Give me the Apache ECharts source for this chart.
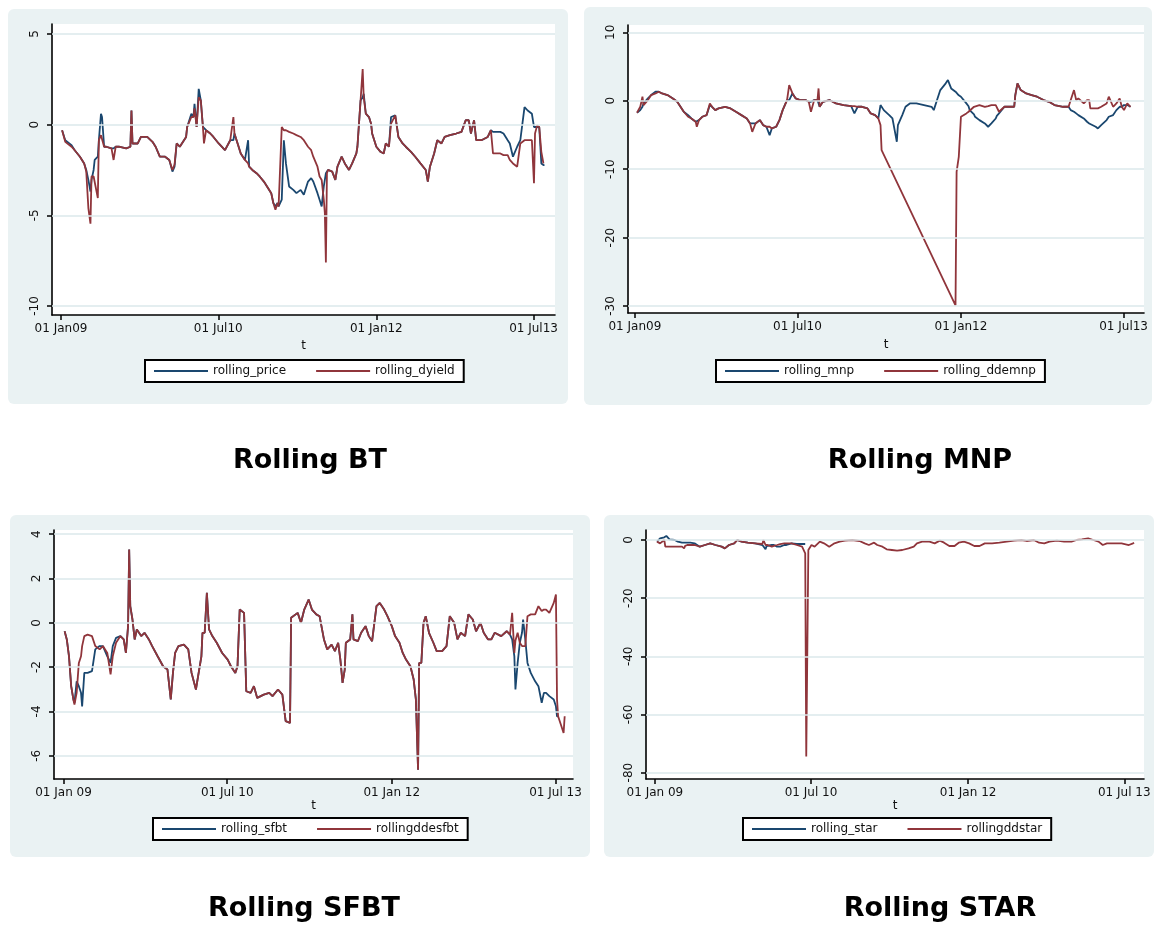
<!DOCTYPE html>
<html>
<head>
<meta charset="utf-8">
<title>Rolling estimates</title>
<script src="https://cdn.jsdelivr.net/npm/echarts/dist/echarts.min.js"></script>
<style>
  html, body { margin: 0; padding: 0; background: #fff; }
  #chart { width: 1154px; height: 926px; }
</style>
</head>
<body>
<div id="chart"></div>
<script>
// time is in decimal years
const btT = [
  2009.01, 2009.04, 2009.10, 2009.13, 2009.18, 2009.22, 2009.24, 2009.26, 2009.28, 2009.29,
  2009.31, 2009.32, 2009.35, 2009.36, 2009.38, 2009.39, 2009.41, 2009.43, 2009.48, 2009.50,
  2009.52, 2009.55, 2009.62, 2009.66, 2009.67, 2009.68, 2009.73, 2009.76, 2009.82, 2009.87,
  2009.90, 2009.94, 2009.99, 2010.03, 2010.06, 2010.08, 2010.10, 2010.13, 2010.15, 2010.19,
  2010.20, 2010.24, 2010.26, 2010.27, 2010.29, 2010.31, 2010.33, 2010.35, 2010.36, 2010.38,
  2010.42, 2010.45, 2010.50, 2010.56, 2010.61, 2010.64, 2010.65, 2010.68, 2010.71, 2010.75,
  2010.78, 2010.79, 2010.82, 2010.86, 2010.89, 2010.93, 2010.96, 2011.00, 2011.02, 2011.04,
  2011.06, 2011.07, 2011.10, 2011.12, 2011.14, 2011.17, 2011.21, 2011.24, 2011.28, 2011.31,
  2011.35, 2011.38, 2011.40, 2011.44, 2011.46, 2011.48, 2011.50, 2011.51, 2011.52, 2011.53,
  2011.54, 2011.58, 2011.61, 2011.63, 2011.67, 2011.70, 2011.74, 2011.77, 2011.81, 2011.82,
  2011.85, 2011.87, 2011.88, 2011.90, 2011.93, 2011.95, 2011.96, 2012.00, 2012.04, 2012.07,
  2012.09, 2012.12, 2012.14, 2012.18, 2012.19, 2012.21, 2012.25, 2012.28, 2012.33, 2012.37,
  2012.42, 2012.47, 2012.49, 2012.51, 2012.55, 2012.58, 2012.62, 2012.65, 2012.70, 2012.76,
  2012.81, 2012.85, 2012.88, 2012.90, 2012.93, 2012.95, 2013.00, 2013.06, 2013.09, 2013.11,
  2013.18, 2013.21, 2013.25, 2013.27, 2013.30, 2013.34, 2013.37, 2013.41, 2013.44, 2013.48,
  2013.50, 2013.51, 2013.53, 2013.55, 2013.57, 2013.59, 2013.60
]
const btPrice = [
  -0.31, -0.86, -1.13, -1.41, -1.77, -2.14, -2.50, -3.05, -3.69, -3.05,
  -2.50, -1.95, -1.77, -0.86, 0.60, 0.42, -1.22, -1.22, -1.31, -1.31,
  -1.22, -1.22, -1.31, -1.22, 0.78, -1.04, -1.04, -0.68, -0.68, -0.95,
  -1.22, -1.77, -1.77, -1.95, -2.59, -2.32, -1.04, -1.22, -1.04, -0.68,
  -0.13, 0.60, 0.42, 1.15, -0.13, 1.97, 1.33, -0.13, -0.13, -0.31,
  -0.49, -0.68, -1.04, -1.41, -0.86, -0.86, -0.49, -1.04, -1.59, -1.95,
  -0.86, -2.32, -2.50, -2.68, -2.86, -3.14, -3.41, -3.78, -4.32, -4.51,
  -4.32, -4.51, -4.14, -0.86, -2.14, -3.41, -3.60, -3.78, -3.60, -3.87,
  -3.14, -2.95, -3.14, -3.78, -4.14, -4.51, -3.41, -3.05, -2.68, -2.68,
  -2.50, -2.59, -3.05, -2.32, -1.77, -2.14, -2.50, -2.14, -1.59, -1.22,
  1.33, 1.51, 1.70, 0.60, 0.42, 0.05, -0.49, -1.22, -1.50, -1.59,
  -1.04, -1.22, 0.42, 0.51, 0.60, -0.68, -1.04, -1.22, -1.50, -1.77,
  -2.14, -2.50, -3.14, -2.32, -1.59, -0.86, -1.04, -0.68, -0.58, -0.49,
  -0.40, 0.24, 0.24, -0.49, 0.24, -0.86, -0.86, -0.68, -0.31, -0.40,
  -0.40, -0.49, -0.86, -1.04, -1.77, -1.22, -0.86, 0.97, 0.78, 0.60,
  -0.13, -0.13, -0.13, -0.13, -2.14, -2.23, -2.23
]
const btDyield = [
  -0.31, -0.95, -1.22, -1.41, -1.77, -2.14, -2.59, -4.60, -5.46, -2.86,
  -2.86, -2.86, -4.05, -0.86, -0.58, -0.58, -1.22, -1.22, -1.31, -1.95,
  -1.22, -1.22, -1.31, -1.22, 0.78, -1.04, -1.04, -0.68, -0.68, -0.95,
  -1.22, -1.77, -1.77, -1.95, -2.50, -2.20, -1.04, -1.22, -1.04, -0.68,
  -0.13, 0.42, 0.42, 0.90, -0.13, 1.51, 1.33, -0.13, -1.04, -0.31,
  -0.49, -0.68, -1.04, -1.41, -0.86, 0.42, -0.49, -1.04, -1.59, -1.95,
  -2.14, -2.32, -2.50, -2.68, -2.86, -3.14, -3.41, -3.78, -4.32, -4.69,
  -4.32, -4.51, -0.13, -0.31, -0.31, -0.40, -0.49, -0.58, -0.68, -0.86,
  -1.22, -1.41, -1.77, -2.32, -2.86, -3.05, -4.14, -4.87, -7.61, -2.68,
  -2.50, -2.59, -3.05, -2.32, -1.77, -2.14, -2.50, -2.14, -1.59, -1.22,
  1.33, 3.07, 1.51, 0.60, 0.42, 0.05, -0.49, -1.22, -1.50, -1.59,
  -1.04, -1.22, 0.05, 0.51, 0.60, -0.68, -1.04, -1.22, -1.50, -1.77,
  -2.14, -2.50, -3.14, -2.32, -1.59, -0.86, -1.04, -0.68, -0.58, -0.49,
  -0.40, 0.24, 0.24, -0.49, 0.24, -0.86, -0.86, -0.68, -0.31, -1.59,
  -1.59, -1.68, -1.68, -1.95, -2.14, -2.32, -1.04, -0.86, -0.86, -0.86,
  -3.23, -0.49, -0.04, -0.13, -1.50, -2.14
]

const mnpT = [
  2009.02, 2009.05, 2009.07, 2009.08, 2009.12, 2009.15, 2009.19, 2009.22, 2009.25, 2009.30,
  2009.35, 2009.39, 2009.42, 2009.45, 2009.49, 2009.52, 2009.56, 2009.57, 2009.59, 2009.62,
  2009.66, 2009.69, 2009.71, 2009.74, 2009.77, 2009.83, 2009.88, 2009.93, 2009.98, 2010.03,
  2010.06, 2010.08, 2010.11, 2010.15, 2010.18, 2010.21, 2010.24, 2010.26, 2010.30, 2010.33,
  2010.36, 2010.40, 2010.42, 2010.45, 2010.48, 2010.52, 2010.57, 2010.60, 2010.62, 2010.65,
  2010.68, 2010.69, 2010.70, 2010.73, 2010.79, 2010.82, 2010.85, 2010.92, 2010.99, 2011.02,
  2011.05, 2011.09, 2011.14, 2011.17, 2011.21, 2011.24, 2011.26, 2011.27, 2011.29, 2011.34,
  2011.37, 2011.39, 2011.41, 2011.42, 2011.46, 2011.49, 2011.53, 2011.59, 2011.66, 2011.73,
  2011.75, 2011.78, 2011.81, 2011.86, 2011.88, 2011.91, 2011.95, 2011.96, 2011.98, 2012.00,
  2012.01, 2012.05, 2012.07, 2012.08, 2012.12, 2012.13, 2012.17, 2012.18, 2012.22, 2012.23,
  2012.25, 2012.28, 2012.32, 2012.33, 2012.35, 2012.40, 2012.45, 2012.49, 2012.50, 2012.52,
  2012.55, 2012.60, 2012.65, 2012.70, 2012.76, 2012.81, 2012.86, 2012.94, 2012.99, 2013.01,
  2013.04, 2013.06, 2013.08, 2013.09, 2013.13, 2013.16, 2013.18, 2013.19, 2013.24, 2013.26,
  2013.29, 2013.34, 2013.36, 2013.40, 2013.43, 2013.46, 2013.48, 2013.50, 2013.53, 2013.56
]
const mnpMnp = [
  -1.76, -1.37, -0.88, -0.39, 0.34, 0.83, 1.32, 1.32, 1.07, 0.83,
  0.34, -0.15, -0.88, -1.61, -2.10, -2.59, -3.07, -2.83, -2.83, -2.34,
  -2.10, -0.63, -0.88, -1.37, -1.12, -0.88, -1.12, -1.61, -2.10, -2.59,
  -3.32, -3.32, -3.32, -2.83, -3.56, -3.80, -5.02, -4.05, -3.80, -2.83,
  -1.37, 0.10, 0.10, 1.07, 0.34, 0.10, 0.10, -0.15, -0.15, 0.10,
  0.10, 0.10, -0.88, -0.15, 0.10, -0.15, -0.39, -0.63, -0.78, -1.85,
  -0.88, -0.88, -1.12, -1.85, -2.10, -2.59, -0.63, -0.63, -1.37, -2.10,
  -2.59, -4.29, -6.00, -3.56, -2.10, -0.88, -0.39, -0.39, -0.63, -0.88,
  -1.37, 0.10, 1.56, 2.54, 3.02, 1.80, 1.32, 1.07, 0.80, 0.59,
  0.40, -0.39, -0.80, -1.37, -2.00, -2.34, -2.83, -2.83, -3.32, -3.50,
  -3.80, -3.32, -2.59, -2.20, -1.85, -0.88, -0.88, -0.88, 0.83, 2.54,
  1.56, 1.07, 0.83, 0.59, 0.10, -0.15, -0.63, -0.88, -0.88, -1.37,
  -1.61, -1.85, -2.10, -2.34, -2.59, -3.07, -3.32, -3.32, -3.80, -4.05,
  -3.56, -2.83, -2.34, -2.10, -1.37, -0.88, -0.88, -0.63, -0.63, -0.88
]
const mnpDdemnp = [
  -1.76, -0.88, 0.59, -0.63, 0.10, 0.83, 1.07, 1.32, 1.07, 0.83,
  0.34, -0.15, -0.88, -1.61, -2.34, -2.59, -3.07, -3.80, -2.83, -2.34,
  -2.10, -0.39, -0.88, -1.37, -1.12, -0.88, -1.12, -1.61, -2.10, -2.59,
  -3.32, -4.54, -3.32, -2.83, -3.56, -3.80, -3.80, -4.05, -3.80, -2.83,
  -1.37, 0.10, 2.29, 1.07, 0.34, 0.10, 0.10, -0.15, -1.61, 0.10,
  0.10, 1.80, -0.88, -0.15, 0.10, -0.15, -0.39, -0.63, -0.78, -0.78,
  -0.88, -0.88, -1.12, -1.85, -2.10, -2.59, -3.56, -7.22, null, null,
  null, null, null, null, null, null, null, null, null, null,
  null, null, null, null, null, null, -29.9, -10.39, -8.20, -2.34,
  -2.10, -1.85, -1.61, -1.37, -0.88, -0.88, -0.63, -0.63, -0.88, -0.88,
  -0.78, -0.63, -0.63, -0.63, -1.61, -0.88, -0.88, -0.88, 0.83, 2.54,
  1.56, 1.07, 0.83, 0.59, 0.10, -0.15, -0.63, -0.88, -0.88, 0.10,
  1.56, 0.10, 0.34, 0.34, -0.39, 0.10, 0.10, -1.12, -1.12, -1.12,
  -0.88, -0.39, 0.59, -0.88, -0.39, 0.34, -0.88, -1.37, -0.39, -0.88
]

const sfbtT = [
  2009.01, 2009.03, 2009.05, 2009.07, 2009.09, 2009.10, 2009.12, 2009.14, 2009.16, 2009.17,
  2009.19, 2009.22, 2009.26, 2009.29, 2009.33, 2009.36, 2009.40, 2009.43, 2009.45, 2009.48,
  2009.52, 2009.55, 2009.57, 2009.59, 2009.60, 2009.61, 2009.63, 2009.65, 2009.67, 2009.71,
  2009.74, 2009.78, 2009.81, 2009.86, 2009.91, 2009.95, 2009.98, 2010.00, 2010.02, 2010.05,
  2010.10, 2010.14, 2010.17, 2010.21, 2010.23, 2010.26, 2010.27, 2010.29, 2010.31, 2010.33,
  2010.36, 2010.40, 2010.45, 2010.50, 2010.53, 2010.57, 2010.59, 2010.61, 2010.65, 2010.67,
  2010.71, 2010.74, 2010.77, 2010.83, 2010.88, 2010.91, 2010.96, 2011.00, 2011.03, 2011.07,
  2011.08, 2011.14, 2011.17, 2011.20, 2011.24, 2011.27, 2011.31, 2011.34, 2011.38, 2011.41,
  2011.45, 2011.48, 2011.51, 2011.53, 2011.55, 2011.57, 2011.58, 2011.62, 2011.64, 2011.65,
  2011.69, 2011.72, 2011.76, 2011.79, 2011.82, 2011.86, 2011.89, 2011.93, 2011.96, 2012.00,
  2012.03, 2012.07, 2012.10, 2012.13, 2012.17, 2012.20, 2012.22, 2012.24, 2012.25, 2012.27,
  2012.29, 2012.31, 2012.34, 2012.38, 2012.41, 2012.46, 2012.50, 2012.53, 2012.57, 2012.60,
  2012.63, 2012.67, 2012.70, 2012.74, 2012.77, 2012.81, 2012.84, 2012.88, 2012.91, 2012.94,
  2013.00, 2013.05, 2013.08, 2013.10, 2013.12, 2013.13, 2013.15, 2013.17, 2013.19, 2013.20,
  2013.22, 2013.24, 2013.27, 2013.31, 2013.34, 2013.37, 2013.39, 2013.41, 2013.44, 2013.48,
  2013.50, 2013.51, 2013.52, 2013.55, 2013.57, 2013.58
]
const sfbtSfbt = [
  -0.38, -0.75, -1.51, -2.86, -3.46, -3.61, -2.64, -2.86, -3.16, -3.77,
  -2.26, -2.26, -2.18, -1.20, -1.05, -1.05, -1.51, -1.81, -1.05, -0.68,
  -0.60, -0.75, -1.36, -0.15, 3.31, 0.75, 0.15, -0.75, -0.30, -0.60,
  -0.45, -0.75, -1.05, -1.51, -1.96, -2.11, -3.46, -2.26, -1.36, -1.05,
  -0.98, -1.20, -2.26, -3.01, -2.41, -1.51, -0.45, -0.45, 1.36, -0.30,
  -0.60, -0.90, -1.36, -1.66, -1.96, -2.26, -1.96, 0.60, 0.45, -3.09,
  -3.16, -2.86, -3.39, -3.24, -3.16, -3.31, -3.01, -3.24, -4.44, -4.52,
  0.23, 0.45, 0.00, 0.60, 1.05, 0.60, 0.38, 0.30, -0.75, -1.20,
  -0.98, -1.28, -0.90, -1.66, -2.71, -2.11, -0.90, -0.75, 0.38, -0.75,
  -0.83, -0.45, -0.15, -0.60, -0.83, 0.75, 0.90, 0.60, 0.30, -0.15,
  -0.60, -0.90, -1.36, -1.66, -1.96, -2.56, -3.46, -6.63, -1.81, -1.81,
  0.00, 0.30, -0.45, -0.90, -1.28, -1.28, -1.05, 0.30, 0.00, -0.75,
  -0.45, -0.60, 0.38, 0.15, -0.38, 0.00, -0.45, -0.75, -0.75, -0.45,
  -0.60, -0.38, -0.53, -0.75, -1.51, -3.01, -1.81, -0.90, -0.45, 0.15,
  -0.75, -1.81, -2.26, -2.64, -2.86, -3.61, -3.16, -3.16, -3.31, -3.46,
  -3.77, -4.22, -4.22
]
const sfbtDdesfbt = [
  -0.38, -0.75, -1.51, -2.86, -3.46, -3.69, -3.16, -1.81, -1.51, -1.05,
  -0.60, -0.53, -0.60, -1.05, -1.20, -1.05, -1.36, -2.33, -1.51, -0.90,
  -0.60, -0.75, -1.36, -0.15, 3.31, 0.75, 0.15, -0.75, -0.30, -0.60,
  -0.45, -0.75, -1.05, -1.51, -1.96, -2.11, -3.46, -2.26, -1.36, -1.05,
  -0.98, -1.20, -2.26, -3.01, -2.41, -1.51, -0.45, -0.45, 1.36, -0.30,
  -0.60, -0.90, -1.36, -1.66, -1.96, -2.26, -1.96, 0.60, 0.45, -3.09,
  -3.16, -2.86, -3.39, -3.24, -3.16, -3.31, -3.01, -3.24, -4.44, -4.52,
  0.23, 0.45, 0.00, 0.60, 1.05, 0.60, 0.38, 0.30, -0.75, -1.20,
  -0.98, -1.28, -0.90, -1.66, -2.71, -2.11, -0.90, -0.75, 0.38, -0.75,
  -0.83, -0.45, -0.15, -0.60, -0.83, 0.75, 0.90, 0.60, 0.30, -0.15,
  -0.60, -0.90, -1.36, -1.66, -1.96, -2.56, -3.46, -6.63, -1.81, -1.81,
  0.00, 0.30, -0.45, -0.90, -1.28, -1.28, -1.05, 0.30, 0.00, -0.75,
  -0.45, -0.60, 0.38, 0.15, -0.38, 0.00, -0.45, -0.75, -0.75, -0.45,
  -0.60, -0.38, -0.53, 0.45, -1.36, -0.80, -0.45, -0.90, -1.05, -1.05,
  -1.05, 0.30, 0.38, 0.38, 0.75, 0.53, 0.60, 0.60, 0.45, 0.90,
  1.28, -3.46, -4.22, -4.67, -4.97, -4.22
]

const starT = [
  2009.02, 2009.05, 2009.09, 2009.10, 2009.11, 2009.14, 2009.19, 2009.22, 2009.26, 2009.28,
  2009.29, 2009.31, 2009.34, 2009.38, 2009.43, 2009.48, 2009.53, 2009.58, 2009.64, 2009.67,
  2009.71, 2009.76, 2009.79, 2009.83, 2009.89, 2009.96, 2010.03, 2010.04, 2010.06, 2010.07,
  2010.08, 2010.12, 2010.14, 2010.17, 2010.20, 2010.24, 2010.26, 2010.31, 2010.36, 2010.41,
  2010.44, 2010.45, 2010.46, 2010.47, 2010.50, 2010.53, 2010.58, 2010.62, 2010.67, 2010.72,
  2010.77, 2010.82, 2010.89, 2010.96, 2011.01, 2011.05, 2011.10, 2011.13, 2011.18, 2011.22,
  2011.27, 2011.32, 2011.37, 2011.43, 2011.48, 2011.51, 2011.56, 2011.63, 2011.68, 2011.73,
  2011.77, 2011.82, 2011.87, 2011.91, 2011.96, 2012.01, 2012.06, 2012.11, 2012.16, 2012.23,
  2012.30, 2012.37, 2012.44, 2012.51, 2012.56, 2012.63, 2012.68, 2012.73, 2012.78, 2012.85,
  2012.92, 2012.99, 2013.04, 2013.09, 2013.15, 2013.20, 2013.25, 2013.29, 2013.33, 2013.40,
  2013.47, 2013.54, 2013.58, 2013.59
]
// the price series stops in mid 2010
const starStar = [
  -0.57, 0.57, 0.92, 1.15, 1.38, 0.23, 0.00, -0.57, -0.92, -0.92,
  -0.57, -0.92, -0.92, -1.15, -2.29, -1.72, -1.15, -1.72, -2.29, -2.87,
  -1.72, -1.15, 0.00, -0.57, -0.92, -1.15, -1.72, -1.72, -3.21, -2.06,
  -2.06, -1.72, -1.72, -2.29, -2.29, -1.72, -1.72, -1.15, -1.38, -1.38,
  -1.38
]
const starDdstar = [
  -0.57, -1.15, 0.00, -2.29, -2.29, -2.29, -2.29, -2.29, -2.29, -2.87,
  -2.00, -1.72, -1.72, -1.72, -2.29, -1.72, -1.15, -1.72, -2.29, -2.87,
  -1.72, -1.15, 0.00, -0.57, -0.92, -1.15, -1.38, 0.00, -1.72, -1.72,
  -1.72, -2.29, -2.00, -1.72, -1.40, -1.15, -1.15, -1.15, -1.72, -2.29,
  -4.58, -74.5, -74.5, -3.44, -1.72, -2.29, -0.57, -1.15, -2.29, -1.15,
  -0.57, -0.23, 0.00, -0.34, -1.15, -1.72, -0.92, -1.72, -2.29, -3.21,
  -3.44, -3.67, -3.44, -2.87, -2.29, -1.15, -0.57, -0.57, -1.15, -0.23,
  -0.92, -2.06, -2.06, -0.92, -0.57, -1.15, -2.06, -2.06, -1.15, -1.15,
  -0.92, -0.57, -0.23, 0.00, -0.34, 0.00, -0.92, -1.15, -0.57, -0.23,
  -0.57, -0.57, 0.00, 0.23, 0.57, 0.00, -0.57, -1.72, -1.15, -1.15,
  -1.15, -1.72, -1.15, -0.92
]

// date ticks: 01 Jan 2009, 01 Jul 2010, 01 Jan 2012, 01 Jul 2013
const tickYears = [2009, 2010.496, 2012, 2013.496]
const tickNamesTop = ['01 Jan09', '01 Jul10', '01 Jan12', '01 Jul13']
const tickNamesBottom = ['01 Jan 09', '01 Jul 10', '01 Jan 12', '01 Jul 13']

const BLUE = '#1a476f'
const RED = '#90353b'
const FONT = 'DejaVu Sans'

const panels = [
  {
    title: 'Rolling BT', titleAt: [310, 461],
    bg: [8, 9, 560, 395],
    grid: { left: 52, top: 24, width: 503, height: 291 },
    xRange: [2008.914, 2013.70], yRange: [-10.5, 5.55], yTicks: [-10, -5, 0, 5],
    xNames: tickNamesTop, nameGap: 25, legendAt: [145, 360],
    names: ['rolling_price', 'rolling_dyield'], t: btT, a: btPrice, b: btDyield
  },
  {
    title: 'Rolling MNP', titleAt: [920, 461],
    bg: [584, 7, 568, 398],
    grid: { left: 628, top: 25, width: 516, height: 288 },
    xRange: [2008.937, 2013.684], yRange: [-31.02, 11.07], yTicks: [-30, -20, -10, 0, 10],
    xNames: tickNamesTop, nameGap: 26, legendAt: [716, 360],
    names: ['rolling_mnp', 'rolling_ddemnp'], t: mnpT, a: mnpMnp, b: mnpDdemnp
  },
  {
    title: 'Rolling SFBT', titleAt: [304, 909],
    bg: [10, 515, 580, 342],
    grid: { left: 54, top: 530, width: 519, height: 249 },
    xRange: [2008.913, 2013.656], yRange: [-7.05, 4.19], yTicks: [-6, -4, -2, 0, 2, 4],
    xNames: tickNamesBottom, nameGap: 20, legendAt: [153, 818],
    names: ['rolling_sfbt', 'rollingddesfbt'], t: sfbtT, a: sfbtSfbt, b: sfbtDdesfbt
  },
  {
    title: 'Rolling STAR', titleAt: [940, 909],
    bg: [604, 515, 550, 342],
    grid: { left: 646, top: 530, width: 498, height: 249 },
    xRange: [2008.915, 2013.685], yRange: [-82.2, 3.44], yTicks: [-80, -60, -40, -20, 0],
    xNames: tickNamesBottom, nameGap: 20, legendAt: [743, 818],
    names: ['rolling_star', 'rollingddstar'], t: starT, a: starStar, b: starDdstar
  }
]

function nearestName(names, v) {
  let best = 0
  tickYears.forEach((y, i) => {
    if (Math.abs(y - v) < Math.abs(tickYears[best] - v)) best = i
  })
  return names[best]
}

const option = {
  animation: false,
  textStyle: { fontFamily: FONT },
  graphic: [],
  grid: [],
  xAxis: [],
  yAxis: [],
  legend: [],
  series: []
}

panels.forEach((p, i) => {
  option.graphic.push({
    type: 'rect', z: -1, silent: true,
    shape: { x: p.bg[0], y: p.bg[1], width: p.bg[2], height: p.bg[3], r: 6 },
    style: { fill: '#eaf2f3' }
  })
  option.graphic.push({
    type: 'text', z: 10, x: p.titleAt[0], y: p.titleAt[1],
    style: {
      text: p.title, fill: '#000', fontFamily: FONT, fontWeight: 'bold', fontSize: 27,
      align: 'center', verticalAlign: 'middle'
    }
  })

  option.grid.push(Object.assign({ show: true, backgroundColor: '#fff', borderWidth: 0 }, p.grid))

  option.xAxis.push({
    type: 'value', gridIndex: i, min: p.xRange[0], max: p.xRange[1],
    name: 't', nameLocation: 'middle', nameGap: p.nameGap,
    nameTextStyle: { fontSize: 12, color: '#111', verticalAlign: 'top' },
    axisLine: { onZero: false, lineStyle: { color: '#000', width: 1.6 } },
    axisTick: { customValues: tickYears, length: 5, lineStyle: { color: '#000', width: 1.5 } },
    axisLabel: {
      customValues: tickYears, fontSize: 12, color: '#111', margin: 8,
      formatter: v => nearestName(p.xNames, v)
    },
    splitLine: { show: false }
  })

  option.yAxis.push({
    type: 'value', gridIndex: i, min: p.yRange[0], max: p.yRange[1],
    axisLine: { show: true, onZero: false, lineStyle: { color: '#000', width: 1.6 } },
    axisTick: { show: true, customValues: p.yTicks, length: 5, lineStyle: { color: '#000', width: 1.5 } },
    axisLabel: { customValues: p.yTicks, rotate: 90, fontSize: 12, color: '#111', margin: 11 },
    splitLine: { show: false }
  })

  option.legend.push({
    left: p.legendAt[0], top: p.legendAt[1],
    data: p.names, icon: 'rect', itemWidth: 54, itemHeight: 2, itemGap: 30,
    backgroundColor: '#fff', borderColor: '#000', borderWidth: 2, borderRadius: 0,
    padding: [5, 9], selectedMode: false,
    textStyle: { fontSize: 12, color: '#111', fontFamily: FONT }
  })

  // horizontal grid lines at the y ticks
  option.series.push({
    type: 'line', xAxisIndex: i, yAxisIndex: i, data: [], z: 1, silent: true,
    markLine: {
      silent: true, symbol: 'none', label: { show: false }, animation: false,
      lineStyle: { color: '#dbe8eb', type: 'solid', width: 1.5 },
      data: p.yTicks.map(v => ({ yAxis: v }))
    }
  })

  option.series.push({
    name: p.names[0], type: 'line', xAxisIndex: i, yAxisIndex: i, z: 2,
    showSymbol: false, symbol: 'none', color: BLUE,
    lineStyle: { color: BLUE, width: 1.8 },
    data: p.a.map((v, k) => [p.t[k], v])
  })
  option.series.push({
    name: p.names[1], type: 'line', xAxisIndex: i, yAxisIndex: i, z: 3,
    showSymbol: false, symbol: 'none', color: RED, connectNulls: true,
    lineStyle: { color: RED, width: 1.8 },
    data: p.b.map((v, k) => [p.t[k], v])
  })
})

const chart = echarts.init(document.getElementById('chart'), null, { renderer: 'canvas' })
chart.setOption(option)
</script>
</body>
</html>
